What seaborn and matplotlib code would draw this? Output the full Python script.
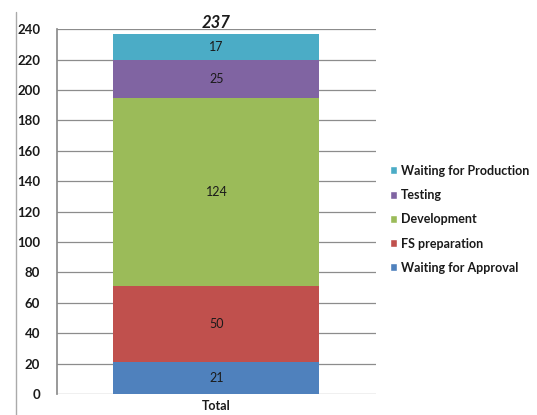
import matplotlib
matplotlib.use("Agg")
import matplotlib.pyplot as plt
import seaborn as sns
import pandas as pd
import numpy as np
from matplotlib.lines import Line2D
from matplotlib.patches import Patch

# data
stages = ["Waiting for Approval", "FS preparation", "Development", "Testing", "Waiting for Production"]
counts = [21, 50, 124, 25, 17]
colors = ["#4F81BD", "#C0504D", "#9BBB59", "#8064A2", "#4BACC6"]
category = "Total"
yticks = list(range(0, 241, 20))

sns.set_theme(style="white")
plt.rcParams["font.family"] = ["Lato", "DejaVu Sans"]

fig = plt.figure(figsize=(5.37, 4.15), dpi=100)
ax = fig.add_axes([0.106, 0.0506, 0.594, 0.879])

cum = np.cumsum(counts)
# draw tallest first so each lower segment overlays
for i in reversed(range(len(stages))):
    df = pd.DataFrame({"cat": [category], "val": [cum[i]]})
    sns.barplot(data=df, x="cat", y="val", color=colors[i], saturation=1,
                width=0.646, linewidth=0, edgecolor=colors[i], ax=ax, zorder=2)

bottoms = cum - np.array(counts)
for b, c in zip(bottoms, counts):
    ax.text(0, b + c / 2, str(c), ha="center", va="center", fontsize=9,
            color="#1a1a1a", zorder=3)
ax.text(0, cum[-1] + 1.5, str(cum[-1]), ha="center", va="bottom", fontsize=12,
        fontweight="bold", fontstyle="italic", color="#1a1a1a")

ax.set_ylim(0, 240)
ax.set_xlim(-0.5, 0.5)
ax.set_yticks(yticks)
ax.yaxis.grid(True, color="#8c8c8c", linewidth=0.9, zorder=0)
ax.set_axisbelow(True)
ax.set_xlabel("")
ax.set_ylabel("")
for s in ["top", "right", "bottom"]:
    ax.spines[s].set_visible(False)
ax.spines["left"].set_color("#8c8c8c")
ax.tick_params(axis="y", labelsize=9.5, pad=12, length=0)
ax.tick_params(axis="x", labelsize=9, pad=4, length=0)
for lab in ax.get_yticklabels() + ax.get_xticklabels():
    lab.set_fontweight("bold")
    lab.set_color("#1a1a1a")

handles = [Patch(facecolor=colors[i], label=stages[i]) for i in reversed(range(len(stages)))]
leg = fig.legend(handles=handles, loc="upper left", bbox_to_anchor=(0.705, 0.63),
                 frameon=False, fontsize=9, handlelength=0.6, handleheight=0.6,
                 handletextpad=0.3, labelspacing=0.98)
for t in leg.get_texts():
    t.set_fontweight("bold")
    t.set_color("#1a1a1a")

fig.add_artist(Line2D([0.03, 0.03], [0.0, 0.97], color="#aaaaaa", linewidth=1,
                      transform=fig.transFigure))

fig.savefig("out.png", dpi=100, facecolor="white")
